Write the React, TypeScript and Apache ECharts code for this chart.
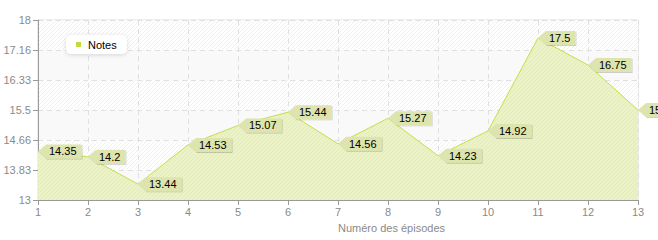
import React, { useEffect, useRef } from "react";
import * as echarts from "echarts";

const episodes = ["1", "2", "3", "4", "5", "6", "7", "8", "9", "10", "11", "12", "13"];
const notes = [14.35, 14.2, 13.44, 14.53, 15.07, 15.44, 14.56, 15.27, 14.23, 14.92, 17.5, 16.75, 15.5];
const yMin = 13;
const yMax = 18;
const seriesName = "Notes";
const xAxisName = "Numéro des épisodes";

const FONT = "Liberation Sans, Arial, sans-serif";

function hatch(bg: string, line: string, size = 4) {
  const c = document.createElement("canvas");
  c.width = size;
  c.height = size;
  const ctx = c.getContext("2d")!;
  ctx.fillStyle = bg;
  ctx.fillRect(0, 0, size, size);
  ctx.strokeStyle = line;
  ctx.lineWidth = 1;
  ctx.beginPath();
  ctx.moveTo(0, size);
  ctx.lineTo(size, 0);
  ctx.moveTo(-size / 2, size / 2);
  ctx.lineTo(size / 2, -size / 2);
  ctx.moveTo(size / 2, size * 1.5);
  ctx.lineTo(size * 1.5, size / 2);
  ctx.stroke();
  return { image: c, repeat: "repeat" } as any;
}

export default function App() {
  const ref = useRef<HTMLDivElement>(null);
  useEffect(() => {
    document.body.style.margin = "0";
    const chart = echarts.init(ref.current!, null, { renderer: "svg" });
    const bgHatch = hatch("#ffffff", "#f0f0f0", 4);
    const areaHatch = hatch("#eaf2c6", "#e2ecb4", 4);
    const labelData = notes.map((v, i) => [i, v]);
    chart.setOption({
      animation: false,
      textStyle: { fontFamily: FONT },
      grid: {
        left: 38,
        right: 20,
        top: 20,
        bottom: 40,
        show: true,
        borderColor: "#dddddd",
        borderWidth: 1,
        backgroundColor: "transparent",
      },
      legend: {
        data: [seriesName],
        left: 66,
        top: 35,
        backgroundColor: "#ffffff",
        borderRadius: 5,
        padding: [4, 10, 4, 10],
        shadowBlur: 4,
        shadowColor: "rgba(0,0,0,0.15)",
        shadowOffsetY: 1,
        icon: "rect",
        itemWidth: 5,
        itemHeight: 5,
        itemGap: 4,
        textStyle: { fontSize: 11, color: "#000", fontFamily: FONT, padding: [0, 0, 0, 2] },
      },
      xAxis: {
        type: "category",
        data: episodes,
        boundaryGap: false,
        name: xAxisName,
        nameLocation: "middle",
        nameGap: 22,
        nameTextStyle: { color: "#8a8a8a", fontSize: 11, align: "left", fontFamily: FONT },
        axisLine: { lineStyle: { color: "#999999" } },
        axisTick: { length: 5, lineStyle: { color: "#999999" } },
        axisLabel: { color: "#8a8a8a", fontSize: 11, margin: 6, fontFamily: FONT },
        splitLine: { show: true, lineStyle: { color: "#e0e0e0", type: [5, 4] } },
      },
      yAxis: {
        type: "value",
        min: yMin,
        max: yMax,
        interval: (yMax - yMin) / 6,
        axisLine: { show: true, lineStyle: { color: "#999999" } },
        axisTick: { show: true, length: 5, lineStyle: { color: "#999999" } },
        axisLabel: {
          color: "#8a8a8a",
          fontSize: 11,
          margin: 7,
          fontFamily: FONT,
          formatter: (v: number) => String(Math.floor(v * 100 + 1e-6) / 100),
        },
        splitLine: { show: true, lineStyle: { color: "#e0e0e0", type: [5, 4] } },
        splitArea: { show: true, areaStyle: { color: ["#f9f9f9", bgHatch] } },
      },
      series: [
        {
          name: seriesName,
          type: "line",
          data: notes,
          showSymbol: false,
          symbol: "none",
          color: "#bedd3a",
          lineStyle: { color: "#c5df48", width: 1 },
          areaStyle: { color: areaHatch, opacity: 1 },
          z: 2,
        },
        {
          name: "labels",
          type: "custom",
          data: labelData,
          z: 5,
          clip: false,
          renderItem: (params: any, api: any) => {
            const pt = api.coord([api.value(0), api.value(1)]);
            const x = pt[0];
            const y = pt[1];
            const h = 14;
            const txt = String(notes[params.dataIndex]);
            return {
              type: "group",
              children: [
                {
                  type: "polygon",
                  shape: {
                    points: [
                      [x, y],
                      [x + 8, y - h / 2],
                      [x + 8, y + h / 2],
                    ],
                  },
                  style: { fill: "#dde4ae", shadowColor: "rgba(0,0,0,0.18)", shadowOffsetY: 1, shadowOffsetX: 1, shadowBlur: 0 },
                },
                {
                  type: "text",
                  x: x + 8,
                  y: y,
                  style: {
                    text: txt,
                    fill: "#000",
                    font: `11px ${FONT}`,
                    verticalAlign: "middle",
                    align: "left",
                    backgroundColor: "#dde4ae",
                    padding: [2, 5, 1, 3],
                    shadowColor: "rgba(0,0,0,0.18)",
                    shadowOffsetX: 1,
                    shadowOffsetY: 1,
                    shadowBlur: 0,
                  },
                },
              ],
            };
          },
        },
      ],
    });
    return () => chart.dispose();
  }, []);
  return <div ref={ref} style={{ width: 658, height: 240 }} />;
}
